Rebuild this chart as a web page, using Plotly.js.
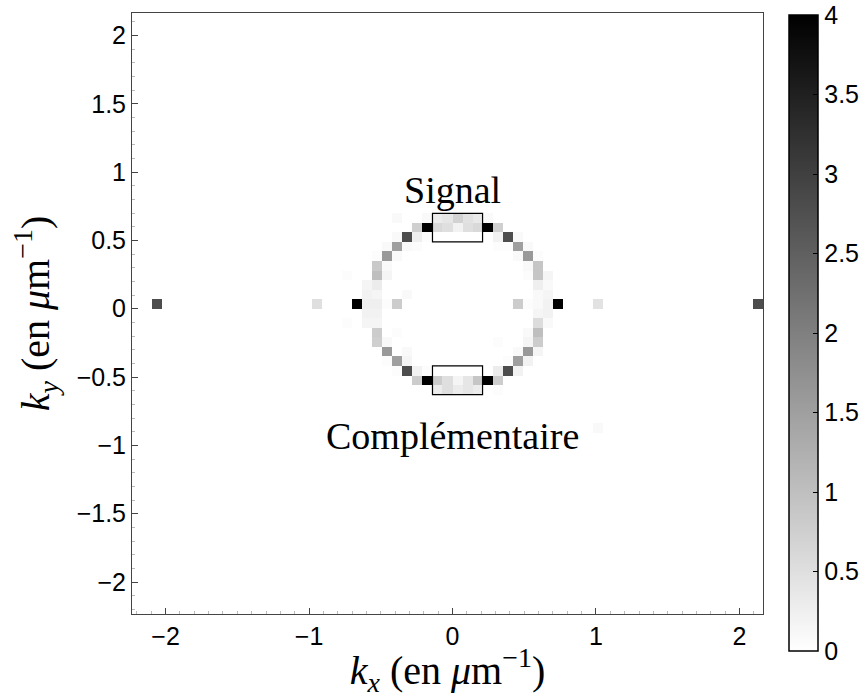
<!DOCTYPE html>
<html>
<head>
<meta charset="utf-8">
<script src="https://cdn.plot.ly/plotly-3.0.1.min.js"></script>
<style>html,body{margin:0;padding:0;background:#fff;}#chart{width:867px;height:698px;}</style>
</head>
<body>
<div id="chart"></div>
<script>
// FFT grid: k_n = n * dk, dk = 2*pi/90 (µm^-1), n = -32..31 (pcolor vertices)
const dk = 2 * Math.PI / 90;
const gridN = [];
for (let n = -32; n <= 31; n++) gridN.push(n);
const kGrid = gridN.map(n => n * dk);

// Non-zero cells: column offset i, row offset j (relative to k = 0), intensity value
const cellI = [
  -6,-3,-2,-1,0,1,2,3,
  -4,-3,-2,-1,0,1,2,3,4,
  -6,-5,-4,-3,4,5,6,
  -7,-6,-5,-4,4,5,6,7,
  -8,-7,-6,6,7,8,
  -8,-7,7,8,
  -11,-8,-7,7,8,9,
  -9,-8,8,9,
  -9,-8,-5,8,9,
  -30,-14,-10,-9,-8,-7,-6,6,7,8,9,10,14,30,
  -9,-8,8,9,
  -11,-9,-8,8,9,
  -8,-6,7,8,
  -8,-7,4,7,8,
  -7,-5,6,7,8,
  -7,-6,-5,5,6,7,
  -6,-5,-4,-3,4,5,6,
  -4,-3,-2,-1,0,1,2,3,4,
  -2,-1,0,1,2,4,
  14
];
const cellJ = [
  9,9,9,9,9,9,9,9,
  8,8,8,8,8,8,8,8,8,
  7,7,7,7,7,7,7,
  6,6,6,6,6,6,6,6,
  5,5,5,5,5,5,
  4,4,4,4,
  3,3,3,3,3,3,
  2,2,2,2,
  1,1,1,1,1,
  0,0,0,0,0,0,0,0,0,0,0,0,0,0,
  -1,-1,-1,-1,
  -2,-2,-2,-2,-2,
  -3,-3,-3,-3,
  -4,-4,-4,-4,-4,
  -5,-5,-5,-5,-5,
  -6,-6,-6,-6,-6,-6,
  -7,-7,-7,-7,-7,-7,-7,
  -8,-8,-8,-8,-8,-8,-8,-8,-8,
  -9,-9,-9,-9,-9,-9,
  -13
];
const cellV = [
  0.1,0.1,0.3,0.4,0.7,0.45,0.35,0.1,
  0.75,4.0,0.6,0.5,0.2,0.5,0.6,4.0,0.75,
  0.1,2.8,0.25,0.05,0.2,2.8,0.1,
  0.1,1.5,0.1,0.05,0.05,0.05,1.5,0.1,
  0.05,1.6,0.1,0.1,1.6,0.05,
  0.85,0.1,0.1,0.9,
  0.05,1.0,0.15,0.05,0.9,0.15,
  0.15,0.3,0.25,0.1,
  0.2,0.15,0.1,0.1,0.15,
  2.8,0.5,4.0,0.25,0.25,0.05,0.8,0.8,0.05,0.1,0.2,4.0,0.45,2.8,
  0.2,0.2,0.15,0.2,
  0.05,0.15,0.15,0.55,0.1,
  0.8,0.05,0.1,1.0,
  0.75,0.1,0.05,0.15,0.8,
  1.6,0.1,0.1,1.6,0.15,
  0.05,1.5,0.15,0.05,1.5,0.2,
  0.05,2.8,0.2,0.05,0.3,2.8,0.2,
  0.8,4.0,0.8,0.5,0.15,0.4,0.9,4.0,0.8,
  0.3,0.5,0.3,0.4,0.3,0.05,
  0.1
];

// Selection windows (in grid steps)
const boxNames = ['Signal', 'Complémentaire'];
const boxX0 = [-2, -2], boxX1 = [3, 3];
const boxY0 = [7, -9], boxY1 = [10, -6];
const labelY = [0.87, -0.93];

const xTicks = [-2, -1, 0, 1, 2];
const yTicks = [-2, -1.5, -1, -0.5, 0, 0.5, 1, 1.5, 2];
const cbTicks = [0, 0.5, 1, 1.5, 2, 2.5, 3, 3.5, 4];

// build the 63x63 pcolor matrix
const nCells = kGrid.length - 1;
const z = [];
for (let r = 0; r < nCells; r++) { const row = []; for (let c = 0; c < nCells; c++) row.push(0); z.push(row); }
for (let q = 0; q < cellV.length; q++) {
  const c = cellI[q] + 32, r = cellJ[q] + 32;
  if (r >= 0 && r < nCells && c >= 0 && c < nCells) z[r][c] = cellV[q];
}

const tickFont = {family: 'Liberation Sans, Arial, sans-serif', size: 25, color: '#000'};
const serif = 'Liberation Serif, DejaVu Serif, serif';
const fmt = v => v < 0 ? '\u2212' + Math.abs(v) : String(v);

// plot area: 601 px tall (paper 0..1); colorbar from y=15 px to 651 px
const plotH = 698 - 13 - 84;
const trace = {
  type: 'heatmap', x: kGrid, y: kGrid, z: z, zmin: 0, zmax: 4,
  colorscale: [[0, '#ffffff'], [1, '#000000']],
  hoverinfo: 'skip',
  colorbar: {
    x: 1 + (789 - 763) / (763 - 132), xanchor: 'left',
    y: -(651 - 614) / plotH, yanchor: 'bottom',
    lenmode: 'fraction', len: (651 - 15) / plotH, thickness: 29, thicknessmode: 'pixels',
    outlinewidth: 1.5, outlinecolor: '#000',
    tickmode: 'array', tickvals: cbTicks, ticktext: cbTicks.map(String),
    ticks: 'inside', ticklen: 5, tickcolor: '#000', ticklabeloverflow: 'allow',
    tickfont: tickFont, xpad: 0, ypad: 0
  }
};

const shapes = boxNames.map((_, b) => ({
  type: 'rect', xref: 'x', yref: 'y',
  x0: boxX0[b]*dk, x1: boxX1[b]*dk, y0: boxY0[b]*dk, y1: boxY1[b]*dk,
  line: {color: '#000', width: 1.2}, fillcolor: 'rgba(0,0,0,0)'
}));
const annotations = boxNames.map((t, b) => ({
  x: 0, y: labelY[b], xref: 'x', yref: 'y', text: t, showarrow: false,
  font: {family: serif, size: 38, color: '#000'}
}));

const axisCommon = {
  showgrid: false, zeroline: false, showline: true, linecolor: '#444', linewidth: 1, mirror: true,
  ticks: 'inside', ticklen: 6, tickcolor: '#444', tickfont: tickFont,
  minor: {ticks: 'inside', ticklen: 3, dtick: 0.1, tickcolor: '#bbb'}
};

const layout = {
  width: 867, height: 698,
  margin: {l: 132, r: 104, t: 13, b: 84, autoexpand: false},
  paper_bgcolor: '#fff', plot_bgcolor: '#fff',
  xaxis: Object.assign({}, axisCommon, {
    range: [kGrid[0], kGrid[kGrid.length-1]], tickmode: 'array', tickvals: xTicks, ticktext: xTicks.map(fmt),
    title: {text: '<i>k</i><sub><i>x</i></sub> (en <i>μ</i>m<sup>−1</sup>)', font: {family: serif, size: 40, color: '#000'}, standoff: 0}
  }),
  yaxis: Object.assign({}, axisCommon, {
    range: [kGrid[0], kGrid[kGrid.length-1]], tickmode: 'array', tickvals: yTicks, ticktext: yTicks.map(fmt),
    title: {text: '<i>k</i><sub><i>y</i></sub> (en <i>μ</i>m<sup>−1</sup>)', font: {family: serif, size: 40, color: '#000'}, standoff: 14}
  }),
  shapes: shapes, annotations: annotations, showlegend: false
};

Plotly.newPlot('chart', [trace], layout, {staticPlot: true, displayModeBar: false});
</script>
</body>
</html>
